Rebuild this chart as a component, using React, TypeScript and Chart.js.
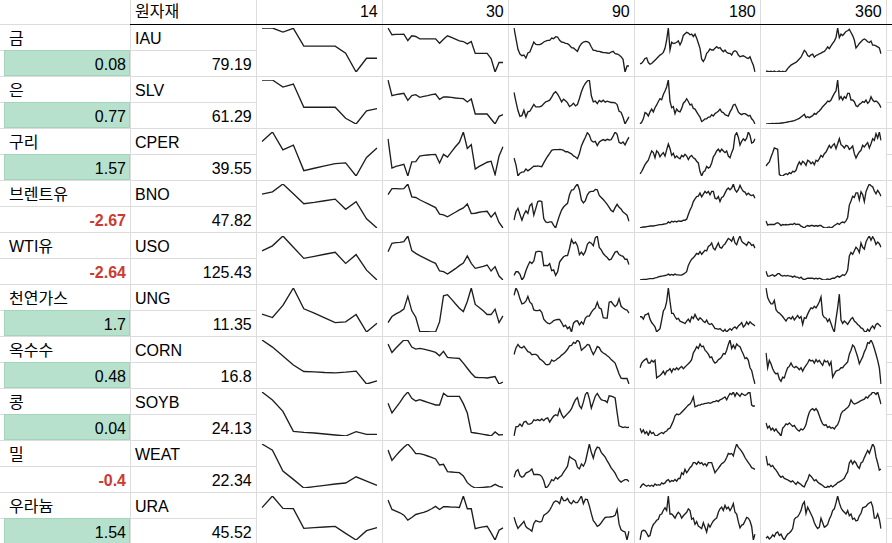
import React, { useEffect, useRef } from 'react';
import { Chart, registerables } from 'chart.js';

Chart.register(...registerables);

// ---- table data ----
const headerLabel = '원자재';
const periods = [14, 30, 90, 180, 360];
const names = ['금', '은', '구리', '브렌트유', 'WTI유', '천연가스', '옥수수', '콩', '밀', '우라늄'];
const tickers = ['IAU', 'SLV', 'CPER', 'BNO', 'USO', 'UNG', 'CORN', 'SOYB', 'WEAT', 'URA'];
const changes = [0.08, 0.77, 1.57, -2.67, -2.64, 1.7, 0.48, 0.04, -0.4, 1.54];
const prices = [79.19, 61.29, 39.55, 47.82, 125.43, 11.35, 16.8, 24.13, 22.34, 45.52];

// ---- sparkline series (relative price levels) ----
const IAU_14 = [143, 143, 131, 142, 89, 89, 89, 89, 68, 12, 53, 53];
const SLV_14 = [142, 142, 121, 130, 61, 61, 61, 61, 28, 11, 50, 57];
const CPER_14 = [115, 143, 90, 104, 28, 35, 42, 49, 51, 12, 67, 95];
const BNO_14 = [113, 120, 144, 114, 84, 88, 93, 98, 67, 90, 38, 10];
const USO_14 = [97, 112, 141, 108, 75, 81, 87, 93, 60, 86, 40, 11];
const UNG_14 = [65, 55, 91, 143, 81, 68, 54, 40, 42, 64, 12, 38];
const CORN_14 = [141, 120, 94, 67, 48, 47, 45, 44, 46, 49, 11, 20];
const SOYB_14 = [142, 118, 84, 24, 21, 19, 16, 13, 10, 23, 15, 15];
const WEAT_14 = [143, 124, 61, 36, 10, 14, 18, 22, 25, 44, 31, 18];
const URA_14 = [107, 142, 105, 104, 45, 47, 49, 51, 30, 10, 38, 47];

const IAU_30 = [143, 123, 124, 124, 125, 106, 120, 118, 111, 111, 111, 111, 111, 98, 110, 120, 115, 110, 105, 103, 96, 103, 68, 68, 68, 68, 53, 13, 41, 41];
const SLV_30 = [142, 95, 98, 100, 102, 81, 95, 98, 90, 93, 95, 98, 100, 84, 91, 91, 90, 88, 87, 86, 76, 85, 40, 40, 40, 40, 25, 10, 33, 38];
const CPER_30 = [120, 35, 40, 43, 46, 12, 53, 54, 70, 72, 73, 74, 75, 50, 75, 67, 82, 97, 110, 140, 92, 103, 32, 40, 46, 52, 55, 16, 70, 97];
const BNO_30 = [112, 130, 130, 129, 130, 144, 105, 103, 96, 90, 84, 78, 72, 52, 50, 44, 51, 58, 65, 71, 83, 54, 55, 58, 60, 61, 43, 57, 27, 10];
const USO_30 = [95, 120, 122, 123, 125, 142, 98, 90, 83, 77, 71, 65, 60, 37, 35, 28, 36, 44, 53, 61, 82, 60, 45, 48, 51, 55, 37, 50, 22, 10];
const UNG_30 = [40, 58, 66, 72, 80, 118, 75, 56, 14, 13, 13, 12, 12, 42, 120, 123, 110, 96, 83, 73, 103, 143, 94, 85, 75, 64, 64, 80, 40, 60];
const CORN_30 = [130, 105, 118, 130, 142, 141, 121, 115, 117, 115, 112, 109, 105, 95, 108, 90, 89, 88, 87, 73, 58, 43, 31, 30, 30, 29, 31, 33, 11, 17];
const SOYB_30 = [109, 80, 96, 112, 130, 143, 124, 116, 120, 116, 112, 108, 104, 104, 139, 130, 130, 130, 130, 108, 80, 22, 20, 18, 16, 14, 11, 23, 14, 15];
const WEAT_30 = [126, 95, 109, 122, 134, 144, 131, 115, 115, 112, 108, 104, 99, 81, 83, 61, 60, 59, 58, 48, 28, 18, 12, 13, 14, 15, 16, 23, 17, 14];
const URA_30 = [130, 102, 97, 92, 85, 70, 78, 87, 90, 93, 98, 104, 111, 102, 110, 110, 109, 109, 108, 142, 104, 104, 45, 48, 50, 52, 32, 11, 40, 47];

const IAU_90 = [142, 110, 78, 64, 59, 61, 52, 67, 70, 85, 100, 93, 92, 92, 95, 100, 103, 105, 105, 112, 110, 116, 115, 105, 100, 99, 96, 95, 90, 83, 82, 77, 72, 86, 95, 100, 102, 101, 97, 85, 75, 75, 72, 72, 70, 68, 68, 67, 66, 70, 72, 65, 64, 61, 56, 48, 10, 28, 28];
const SLV_90 = [105, 77, 51, 34, 36, 52, 32, 47, 49, 59, 69, 62, 62, 62, 65, 71, 77, 79, 82, 91, 102, 107, 100, 89, 77, 85, 80, 74, 63, 67, 73, 65, 69, 87, 107, 122, 132, 139, 142, 95, 77, 79, 72, 81, 77, 82, 76, 79, 77, 75, 75, 74, 69, 49, 46, 31, 11, 22, 32];
const CPER_90 = [65, 45, 13, 21, 24, 25, 33, 28, 32, 37, 41, 41, 42, 41, 40, 51, 61, 70, 78, 87, 89, 89, 89, 90, 89, 87, 83, 83, 80, 77, 71, 68, 63, 78, 100, 113, 125, 138, 131, 115, 111, 113, 101, 111, 115, 118, 115, 119, 117, 118, 128, 140, 133, 110, 107, 111, 103, 115, 125];
const BNO_90 = [35, 60, 70, 52, 35, 52, 63, 55, 78, 84, 50, 70, 90, 92, 90, 40, 30, 28, 30, 30, 20, 12, 32, 50, 65, 74, 80, 85, 110, 124, 125, 135, 142, 125, 95, 86, 93, 110, 118, 120, 120, 126, 125, 108, 102, 96, 89, 82, 73, 64, 60, 72, 82, 73, 68, 59, 55, 50, 32];
const USO_90 = [30, 40, 40, 33, 17, 25, 43, 57, 68, 63, 70, 95, 97, 97, 95, 57, 58, 57, 63, 43, 45, 30, 40, 67, 75, 82, 85, 85, 105, 130, 119, 123, 113, 88, 95, 87, 97, 117, 123, 120, 113, 135, 140, 108, 101, 91, 85, 80, 73, 75, 85, 95, 97, 88, 85, 83, 75, 75, 60];
const UNG_90 = [120, 142, 130, 110, 95, 97, 103, 117, 100, 95, 77, 75, 75, 77, 70, 50, 43, 38, 36, 40, 46, 48, 49, 49, 40, 28, 32, 22, 27, 12, 38, 44, 45, 33, 42, 35, 53, 59, 59, 70, 78, 83, 100, 83, 80, 54, 53, 53, 100, 102, 94, 87, 93, 110, 88, 83, 79, 77, 68];
const CORN_90 = [100, 119, 129, 121, 119, 124, 116, 108, 106, 99, 100, 100, 96, 87, 83, 78, 71, 70, 72, 84, 80, 83, 88, 92, 98, 102, 108, 115, 125, 126, 135, 132, 142, 136, 112, 117, 122, 129, 127, 112, 100, 110, 123, 120, 109, 104, 101, 96, 92, 85, 80, 75, 59, 43, 31, 30, 30, 30, 14];
const SOYB_90 = [16, 43, 43, 50, 44, 56, 58, 50, 50, 53, 62, 60, 63, 60, 65, 60, 66, 68, 56, 65, 73, 77, 74, 93, 78, 68, 74, 80, 86, 94, 108, 120, 126, 103, 95, 113, 135, 142, 123, 96, 113, 130, 138, 128, 120, 118, 117, 112, 131, 130, 128, 125, 83, 45, 43, 40, 42, 40, 41];
const WEAT_90 = [45, 62, 67, 50, 45, 48, 57, 60, 63, 69, 53, 53, 53, 52, 47, 35, 14, 18, 27, 38, 35, 45, 40, 46, 50, 60, 68, 77, 105, 100, 97, 93, 74, 69, 83, 77, 89, 115, 141, 117, 100, 122, 132, 130, 117, 110, 103, 92, 83, 72, 65, 57, 45, 36, 31, 35, 38, 38, 33];
const URA_90 = [80, 62, 48, 55, 61, 68, 53, 48, 45, 40, 62, 70, 68, 66, 68, 85, 89, 93, 100, 110, 122, 126, 124, 118, 138, 127, 127, 133, 122, 118, 127, 121, 121, 130, 140, 118, 131, 130, 112, 90, 70, 63, 54, 57, 64, 72, 79, 80, 80, 81, 82, 85, 102, 60, 44, 40, 38, 15, 40];

const IAU_180 = [34, 36, 42, 50, 52, 38, 33, 35, 40, 45, 50, 55, 60, 63, 68, 80, 105, 140, 75, 98, 94, 95, 98, 102, 90, 100, 118, 123, 127, 125, 120, 122, 115, 122, 110, 95, 80, 48, 41, 50, 65, 70, 78, 75, 75, 80, 85, 80, 82, 75, 70, 75, 68, 65, 65, 60, 70, 73, 70, 60, 55, 57, 58, 55, 52, 50, 55, 42, 30, 10];
const SLV_180 = [12, 17, 27, 45, 42, 35, 47, 55, 47, 59, 67, 77, 85, 82, 97, 107, 119, 139, 77, 59, 62, 42, 55, 49, 47, 57, 72, 77, 85, 77, 67, 69, 57, 55, 47, 39, 32, 19, 22, 27, 27, 32, 32, 39, 35, 42, 45, 49, 55, 47, 45, 39, 37, 35, 47, 55, 67, 69, 59, 47, 42, 39, 42, 42, 39, 35, 37, 27, 22, 12];
const CPER_180 = [21, 28, 38, 48, 55, 61, 75, 88, 83, 68, 88, 83, 71, 78, 83, 73, 91, 108, 95, 75, 81, 68, 73, 68, 65, 75, 71, 78, 73, 63, 71, 75, 68, 65, 58, 53, 28, 15, 27, 30, 43, 38, 41, 53, 71, 78, 88, 93, 85, 93, 88, 83, 88, 73, 68, 83, 95, 133, 141, 128, 105, 116, 123, 118, 125, 143, 133, 111, 113, 123];
const BNO_180 = [12, 14, 15, 15, 16, 17, 18, 18, 18, 19, 20, 21, 22, 22, 23, 24, 25, 30, 27, 32, 30, 32, 30, 33, 32, 32, 35, 35, 38, 52, 65, 75, 90, 98, 105, 106, 115, 104, 112, 120, 115, 120, 110, 120, 120, 100, 98, 105, 90, 102, 105, 115, 125, 130, 125, 130, 142, 125, 118, 125, 138, 128, 120, 118, 110, 115, 110, 108, 110, 100];
const USO_180 = [13, 14, 15, 15, 15, 16, 17, 17, 17, 19, 20, 22, 23, 24, 25, 26, 27, 30, 27, 29, 27, 30, 28, 28, 27, 27, 30, 33, 37, 55, 65, 73, 77, 83, 90, 87, 95, 87, 93, 99, 97, 110, 113, 120, 105, 100, 110, 120, 107, 105, 113, 117, 125, 133, 130, 125, 137, 120, 115, 130, 140, 125, 120, 117, 113, 123, 120, 113, 115, 105];
const UNG_180 = [60, 60, 53, 65, 67, 70, 53, 43, 37, 30, 15, 20, 25, 50, 77, 85, 105, 145, 105, 70, 70, 60, 53, 55, 47, 45, 43, 40, 47, 53, 45, 60, 55, 67, 57, 50, 57, 53, 47, 43, 50, 40, 37, 40, 33, 25, 25, 23, 25, 20, 17, 23, 15, 20, 25, 20, 27, 30, 25, 33, 37, 43, 30, 35, 45, 37, 45, 40, 37, 33];
const CORN_180 = [60, 74, 80, 84, 87, 74, 74, 82, 77, 82, 30, 34, 37, 42, 50, 40, 50, 52, 57, 47, 57, 54, 60, 54, 60, 64, 57, 62, 67, 72, 77, 84, 104, 112, 122, 117, 130, 122, 124, 112, 107, 100, 90, 92, 80, 74, 77, 84, 87, 92, 102, 100, 112, 129, 142, 117, 127, 117, 130, 125, 122, 110, 100, 87, 90, 82, 60, 52, 30, 12];
const SOYB_180 = [38, 26, 33, 23, 28, 18, 30, 23, 26, 18, 16, 20, 23, 26, 23, 28, 30, 36, 38, 48, 58, 73, 78, 76, 78, 83, 88, 93, 98, 103, 106, 114, 126, 98, 100, 103, 103, 106, 106, 108, 108, 110, 108, 110, 113, 113, 116, 113, 118, 120, 123, 126, 118, 128, 136, 133, 140, 128, 138, 133, 128, 136, 133, 130, 133, 138, 138, 103, 100, 101];
const WEAT_180 = [15, 23, 27, 23, 20, 23, 20, 23, 20, 27, 23, 25, 23, 30, 27, 30, 37, 40, 33, 37, 35, 40, 35, 43, 43, 60, 55, 70, 60, 67, 75, 80, 90, 90, 85, 93, 87, 90, 83, 87, 80, 90, 90, 90, 75, 60, 67, 73, 80, 87, 90, 95, 105, 117, 115, 117, 110, 130, 145, 135, 130, 123, 115, 105, 97, 90, 83, 75, 73, 70];
const URA_180 = [15, 40, 43, 42, 35, 25, 28, 48, 60, 65, 72, 75, 88, 90, 101, 108, 100, 142, 90, 90, 85, 78, 88, 95, 90, 78, 85, 90, 95, 105, 100, 75, 78, 60, 68, 55, 52, 48, 65, 52, 38, 60, 52, 62, 70, 75, 78, 95, 105, 110, 100, 115, 105, 110, 100, 108, 120, 95, 90, 68, 50, 58, 60, 70, 80, 78, 70, 54, 15, 32];

const IAU_360 = [15, 14, 13, 14, 12, 15, 12, 13, 15, 12, 14, 12, 15, 22, 27, 32, 35, 38, 40, 45, 50, 55, 65, 75, 70, 60, 57, 62, 64, 55, 60, 62, 65, 67, 70, 72, 78, 85, 80, 88, 95, 102, 112, 140, 112, 122, 118, 124, 130, 132, 136, 127, 118, 105, 82, 88, 95, 100, 105, 108, 105, 100, 98, 102, 90, 90, 88, 85, 82, 65];
const SLV_360 = [10, 10, 11, 11, 12, 11, 12, 12, 12, 13, 13, 14, 15, 16, 17, 18, 19, 20, 22, 25, 27, 31, 35, 39, 29, 32, 29, 32, 35, 42, 39, 45, 49, 55, 62, 67, 72, 79, 77, 82, 92, 102, 109, 142, 85, 92, 82, 92, 87, 102, 102, 82, 82, 77, 65, 62, 69, 72, 77, 75, 82, 72, 77, 92, 82, 77, 79, 75, 69, 59];
const CPER_360 = [41, 48, 53, 68, 81, 95, 93, 91, 15, 12, 11, 15, 18, 15, 21, 18, 25, 23, 28, 43, 53, 45, 55, 51, 43, 58, 55, 48, 53, 45, 58, 55, 63, 73, 68, 78, 83, 93, 103, 95, 103, 108, 93, 108, 123, 105, 101, 95, 103, 101, 91, 95, 101, 78, 65, 75, 83, 88, 103, 98, 105, 111, 95, 108, 123, 118, 138, 125, 143, 118];
const BNO_360 = [35, 23, 25, 25, 25, 25, 28, 30, 27, 22, 25, 24, 25, 24, 25, 26, 25, 28, 25, 26, 25, 20, 18, 15, 20, 22, 20, 22, 22, 20, 22, 20, 22, 22, 18, 16, 15, 17, 18, 15, 18, 22, 25, 28, 25, 30, 32, 30, 35, 45, 80, 92, 105, 102, 115, 115, 95, 118, 110, 90, 118, 130, 140, 135, 132, 120, 112, 122, 115, 105];
const USO_360 = [37, 23, 23, 25, 27, 23, 25, 30, 30, 25, 23, 25, 23, 25, 23, 23, 20, 23, 20, 20, 17, 20, 15, 13, 15, 17, 17, 17, 17, 15, 17, 15, 17, 15, 13, 12, 13, 15, 13, 15, 17, 17, 20, 23, 20, 23, 27, 25, 30, 40, 80, 90, 85, 95, 105, 100, 90, 117, 105, 100, 120, 130, 137, 125, 135, 127, 113, 120, 115, 105];
const UNG_360 = [143, 115, 105, 97, 97, 107, 80, 73, 70, 65, 60, 53, 47, 55, 57, 53, 60, 50, 57, 63, 55, 60, 37, 57, 55, 67, 77, 85, 83, 90, 85, 93, 103, 117, 65, 57, 55, 45, 53, 40, 25, 15, 53, 85, 125, 50, 40, 47, 43, 37, 45, 53, 57, 47, 43, 37, 33, 27, 25, 17, 15, 23, 17, 27, 33, 25, 37, 40, 35, 30];
const CORN_360 = [104, 60, 82, 72, 57, 47, 42, 44, 27, 20, 32, 30, 47, 60, 64, 74, 64, 60, 64, 60, 54, 60, 50, 60, 67, 74, 84, 80, 82, 74, 84, 77, 82, 74, 67, 82, 77, 80, 67, 77, 32, 42, 50, 52, 54, 60, 60, 67, 72, 77, 100, 112, 127, 122, 107, 92, 72, 82, 92, 107, 117, 134, 132, 142, 132, 117, 100, 82, 60, 12];
const SOYB_360 = [53, 38, 44, 33, 38, 30, 36, 28, 23, 16, 38, 43, 50, 48, 53, 48, 43, 46, 38, 33, 30, 36, 33, 38, 48, 68, 83, 90, 93, 88, 93, 86, 73, 60, 50, 46, 48, 40, 43, 38, 40, 36, 43, 48, 60, 78, 86, 88, 93, 96, 103, 118, 110, 106, 108, 110, 113, 116, 118, 120, 126, 123, 130, 133, 140, 138, 133, 140, 123, 106];
const WEAT_360 = [110, 85, 87, 80, 83, 75, 70, 63, 55, 50, 53, 47, 45, 43, 40, 37, 40, 35, 30, 37, 33, 30, 25, 23, 35, 43, 57, 53, 47, 40, 43, 37, 33, 30, 27, 23, 20, 25, 23, 27, 23, 27, 30, 35, 37, 40, 43, 47, 57, 65, 90, 97, 87, 95, 90, 80, 75, 90, 93, 105, 115, 125, 117, 130, 143, 135, 107, 90, 70, 73];
const URA_360 = [20, 25, 18, 22, 30, 25, 35, 38, 28, 32, 22, 15, 25, 32, 35, 40, 48, 75, 80, 82, 90, 100, 118, 125, 92, 110, 100, 90, 80, 65, 55, 48, 52, 78, 65, 52, 55, 60, 75, 85, 100, 105, 122, 142, 122, 108, 100, 95, 90, 100, 85, 90, 75, 78, 70, 72, 85, 92, 108, 110, 112, 118, 122, 125, 112, 78, 78, 90, 75, 48];

const SERIES: number[][][] = [
  [IAU_14, IAU_30, IAU_90, IAU_180, IAU_360],
  [SLV_14, SLV_30, SLV_90, SLV_180, SLV_360],
  [CPER_14, CPER_30, CPER_90, CPER_180, CPER_360],
  [BNO_14, BNO_30, BNO_90, BNO_180, BNO_360],
  [USO_14, USO_30, USO_90, USO_180, USO_360],
  [UNG_14, UNG_30, UNG_90, UNG_180, UNG_360],
  [CORN_14, CORN_30, CORN_90, CORN_180, CORN_360],
  [SOYB_14, SOYB_30, SOYB_90, SOYB_180, SOYB_360],
  [WEAT_14, WEAT_30, WEAT_90, WEAT_180, WEAT_360],
  [URA_14, URA_30, URA_90, URA_180, URA_360],
];

// ---- layout ----
const W = 892;
const H = 543;
const COL_LINES = [130, 256, 382, 508, 634, 760, 886];
const HEADER_LINE = 24;
const SUB = 26;
const GRID = '#dcdcdc';
const FONT = '"Liberation Sans", Arial, "Noto Sans CJK KR", sans-serif';

function Spark({ values, left, top }: { values: number[]; left: number; top: number }) {
  const ref = useRef<HTMLCanvasElement | null>(null);
  useEffect(() => {
    if (!ref.current) return;
    const min = Math.min(...values);
    const max = Math.max(...values);
    const chart = new Chart(ref.current, {
      type: 'line',
      data: {
        labels: values.map((_, i) => String(i)),
        datasets: [
          {
            data: values,
            borderColor: '#1e1e1e',
            borderWidth: 1.35,
            pointRadius: 0,
            tension: 0,
            fill: false,
          },
        ],
      },
      options: {
        animation: false,
        responsive: false,
        events: [],
        layout: { padding: { left: 5, right: 5, top: 3, bottom: 4 } },
        plugins: { legend: { display: false }, tooltip: { enabled: false } },
        scales: {
          x: { display: false },
          y: { display: false, min, max },
        },
      },
    });
    return () => chart.destroy();
  }, [values]);
  return (
    <canvas
      ref={ref}
      width={125}
      height={51}
      style={{ position: 'absolute', left, top, width: 125, height: 51 }}
    />
  );
}

export default function App() {
  const lines: React.ReactNode[] = [];
  // vertical grid lines
  COL_LINES.forEach((x, i) => {
    lines.push(<rect key={'v' + i} x={x} y={0} width={1} height={H} fill={GRID} />);
  });
  // horizontal grid lines
  for (let k = 1; k < 20; k++) {
    const y = HEADER_LINE + SUB * k;
    if (k % 2 === 0) {
      lines.push(<rect key={'h' + k} x={0} y={y} width={W} height={1} fill={GRID} />);
    } else {
      lines.push(<rect key={'ha' + k} x={0} y={y} width={COL_LINES[1]} height={1} fill={GRID} />);
      lines.push(<rect key={'hb' + k} x={COL_LINES[6]} y={y} width={W - COL_LINES[6]} height={1} fill={GRID} />);
    }
  }
  lines.push(<rect key="h0a" x={0} y={HEADER_LINE} width={COL_LINES[0]} height={1} fill={GRID} />);

  const cells: React.ReactNode[] = [];
  names.forEach((name, i) => {
    const top = HEADER_LINE + 2 * SUB * i;
    const ch = changes[i];
    if (ch > 0) {
      cells.push(
        <rect
          key={'g' + i}
          x={4.5}
          y={top + SUB + 0.5}
          width={125}
          height={SUB - 1}
          fill="#b7e1cd"
          stroke="#a2d5bb"
          strokeWidth={1}
        />
      );
    }
    cells.push(
      <text key={'n' + i} x={9} y={top + 20.3} fontSize={16} fill="#000">
        {name}
      </text>
    );
    cells.push(
      <text key={'t' + i} x={135} y={top + 20.3} fontSize={16} fill="#000">
        {tickers[i]}
      </text>
    );
    cells.push(
      <text
        key={'c' + i}
        x={COL_LINES[0] - 4}
        y={top + SUB + 20}
        fontSize={16}
        textAnchor="end"
        fill={ch < 0 ? '#cc3a30' : '#000'}
        fontWeight={ch < 0 ? 700 : 400}
      >
        {String(ch)}
      </text>
    );
    cells.push(
      <text key={'p' + i} x={COL_LINES[1] - 4.3} y={top + SUB + 20} fontSize={16} textAnchor="end" fill="#000">
        {String(prices[i])}
      </text>
    );
  });

  const sparks: React.ReactNode[] = [];
  SERIES.forEach((row, i) => {
    row.forEach((vals, c) => {
      sparks.push(
        <Spark
          key={'s' + i + '-' + c}
          values={vals}
          left={COL_LINES[c + 1] + 1}
          top={HEADER_LINE + 2 * SUB * i + 1}
        />
      );
    });
  });

  return (
    <div
      style={{
        position: 'fixed',
        left: 0,
        top: 0,
        width: W,
        height: H,
        overflow: 'hidden',
        background: '#fff',
      }}
    >
      <svg
        width={W}
        height={H}
        style={{ position: 'absolute', left: 0, top: 0, fontFamily: FONT }}
      >
        {lines}
        {cells}
        <rect x={COL_LINES[0]} y={HEADER_LINE} width={W - COL_LINES[0]} height={1} fill="#000" />
        <text x={135} y={17.3} fontSize={16} fill="#000">
          {headerLabel}
        </text>
        {periods.map((p, c) => (
          <text key={'hd' + c} x={COL_LINES[c + 2] - 4.3} y={17.3} fontSize={16} textAnchor="end" fill="#000">
            {String(p)}
          </text>
        ))}
      </svg>
      {sparks}
    </div>
  );
}
